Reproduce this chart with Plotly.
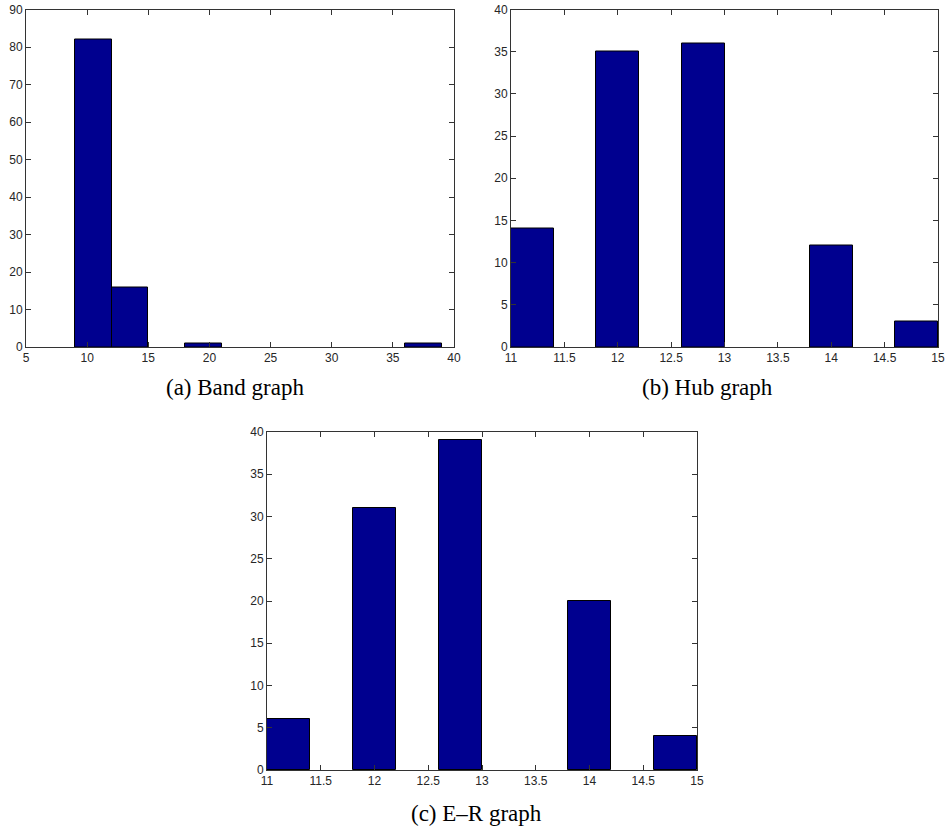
import plotly.graph_objects as go

# ---- data ----
band_edges = [9, 12, 15, 18, 21, 24, 27, 30, 33, 36, 39]
band_counts = [82, 16, 0, 1, 0, 0, 0, 0, 0, 1]

hub_edges = [11.0, 11.4, 11.8, 12.2, 12.6, 13.0, 13.4, 13.8, 14.2, 14.6, 15.0]
hub_counts = [14, 0, 35, 0, 36, 0, 0, 12, 0, 3]

er_edges = [11.0, 11.4, 11.8, 12.2, 12.6, 13.0, 13.4, 13.8, 14.2, 14.6, 15.0]
er_counts = [6, 0, 31, 0, 39, 0, 0, 20, 0, 4]

band_xticks = [5, 10, 15, 20, 25, 30, 35, 40]
band_yticks = [0, 10, 20, 30, 40, 50, 60, 70, 80, 90]
hub_xticks = [11, 11.5, 12, 12.5, 13, 13.5, 14, 14.5, 15]
hub_xticklabels = ["11", "11.5", "12", "12.5", "13", "13.5", "14", "14.5", "15"]
hub_yticks = [0, 5, 10, 15, 20, 25, 30, 35, 40]

captions = ["(a) Band graph", "(b) Hub graph", "(c) E\u2013R graph"]

W, H = 947, 830
BAR_COLOR = "rgb(0,0,143)"


def hist_trace(edges, counts, xa, ya):
    xs, ws, ys = [], [], []
    for i, c in enumerate(counts):
        if c > 0:
            xs.append((edges[i] + edges[i + 1]) / 2)
            ws.append(edges[i + 1] - edges[i])
            ys.append(c)
    return go.Bar(x=xs, y=ys, width=ws, xaxis=xa, yaxis=ya,
                  marker=dict(color=BAR_COLOR, line=dict(color="black", width=1)),
                  showlegend=False, hoverinfo="x+y")


fig = go.Figure()
fig.add_trace(hist_trace(band_edges, band_counts, "x", "y"))
fig.add_trace(hist_trace(hub_edges, hub_counts, "x2", "y2"))
fig.add_trace(hist_trace(er_edges, er_counts, "x3", "y3"))


def px_dom_x(a, b):
    return [a / W, b / W]


def px_dom_y(top, bottom):
    return [1 - bottom / H, 1 - top / H]


axis_common = dict(
    showline=True, linecolor="#333333", linewidth=1, mirror="ticks",
    ticks="inside", ticklen=5, tickcolor="#333333", showgrid=False,
    zeroline=False, automargin=False,
    tickfont=dict(family="Liberation Sans, Arial", size=12, color="#262626"),
)

fig.update_layout(
    width=W, height=H,
    margin=dict(l=0, r=0, t=0, b=0),
    paper_bgcolor="white", plot_bgcolor="white",
    bargap=0,
    xaxis=dict(domain=px_dom_x(26, 454), range=[5, 40], tickvals=band_xticks,
               anchor="y", **axis_common),
    yaxis=dict(domain=px_dom_y(9.5, 347), range=[0, 90], tickvals=band_yticks,
               anchor="x", **axis_common),
    xaxis2=dict(domain=px_dom_x(511, 938), range=[11, 15], tickvals=hub_xticks,
                ticktext=hub_xticklabels, anchor="y2", **axis_common),
    yaxis2=dict(domain=px_dom_y(9.5, 347), range=[0, 40], tickvals=hub_yticks,
                anchor="x2", **axis_common),
    xaxis3=dict(domain=px_dom_x(267, 697), range=[11, 15], tickvals=hub_xticks,
                ticktext=hub_xticklabels, anchor="y3", **axis_common),
    yaxis3=dict(domain=px_dom_y(432, 770), range=[0, 40], tickvals=hub_yticks,
                anchor="x3", **axis_common),
)

cap_pos = [(235, 387), (707, 387), (476, 813)]
for txt, (cx, cy) in zip(captions, cap_pos):
    fig.add_annotation(text=txt, x=cx / W, y=1 - cy / H,
                       xref="paper", yref="paper",
                       showarrow=False, xanchor="center", yanchor="middle",
                       font=dict(family="Liberation Serif, Times New Roman", size=23, color="black"))

fig.write_html(
    "out.html",
    config={"displayModeBar": False},
    post_script="document.body.style.margin='0';document.body.style.overflow='hidden';",
)
